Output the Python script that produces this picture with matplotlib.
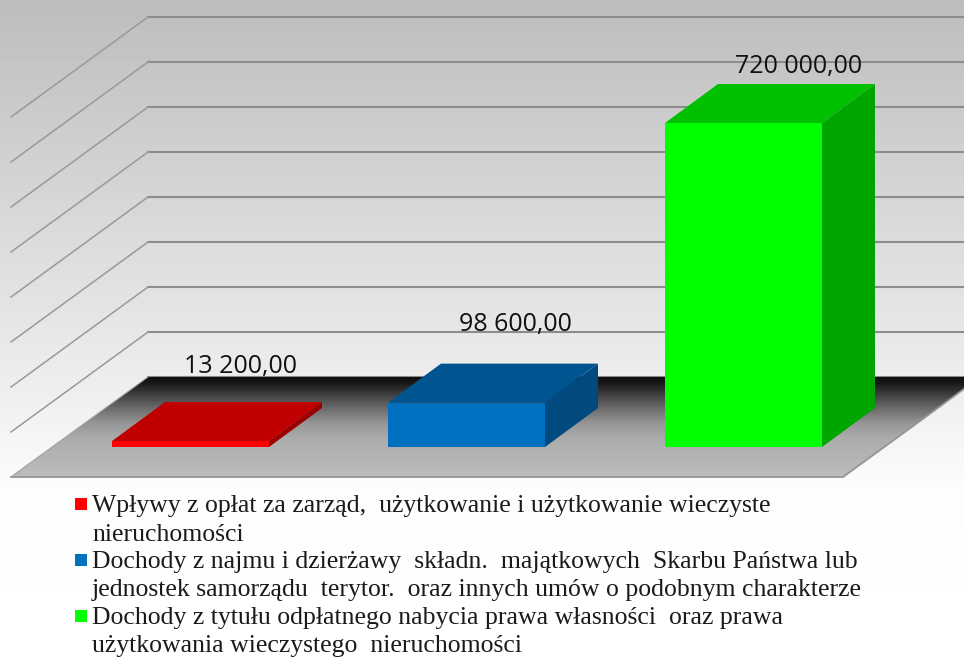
#! /usr/bin/env python
# -*- coding: utf-8 -*-
import numpy as np
import matplotlib
matplotlib.use('Agg')
import matplotlib.pyplot as plt
from matplotlib.patches import Polygon

# data
values = [13200, 98600, 720000]
value_labels = ['13 200,00', '98 600,00', '720 000,00']
front_colors = ['#ff0000', '#0070c0', '#00ff00']
top_colors = ['#c00000', '#00548f', '#00c000']
side_colors = ['#9a0000', '#004a80', '#00a600']
legend_lines = [
    'Wpływy z opłat za zarząd,  użytkowanie i użytkowanie wieczyste',
    'nieruchomości',
    'Dochody z najmu i dzierżawy  składn.  majątkowych  Skarbu Państwa lub',
    'jednostek samorządu  terytor.  oraz innych umów o podobnym charakterze',
    'Dochody z tytułu odpłatnego nabycia prawa własności  oraz prawa',
    'użytkowania wieczystego  nieruchomości',
]
legend_colors = ['#ff0000', None, '#0070c0', None, '#00ff00', None]
grid_values = [0, 100000, 200000, 300000, 400000, 500000, 600000, 700000, 800000]

# layout in pixels of the image
W, H = 964, 657
BASE_Y = 447
PX_PER_UNIT = 324 / 720000
BAR_LEFT = [112, 388, 665]
BAR_W = 157
DX, DY = 53, 39
LABEL_X = [241, 515, 799]
LABEL_Y = [367, 325, 66]
LEGEND_Y = [512, 541, 568, 596, 624, 652]


def to_y(v):
    return BASE_Y - v * PX_PER_UNIT


fig = plt.figure(figsize=(W / 100, H / 100), dpi=100)
ax = fig.add_axes([0, 0, 1, 1])
ax.axis('off')

# wall background, grey at the top fading out to white
rows = np.arange(H)
bg = np.interp(rows, [0, 100, 200, 300, 400, 490, 657],
               [0.74, 0.79, 0.84, 0.89, 0.94, 0.99, 1.0]).reshape(-1, 1)
ax.imshow(bg, extent=[0, W, H, 0], cmap='gray', vmin=0, vmax=1,
          aspect='auto', interpolation='nearest', zorder=0)

# gridlines, back wall and left wall
for gv in grid_values:
    y = 377 - gv * 45 / 100000
    ax.plot([148, W], [y, y], color='#8c8c8c', lw=1.5, zorder=1)
    if gv > 0:
        ax.plot([148, 11], [y, y + 100], color='#999999', lw=1.1, zorder=1)

# floor
floor = Polygon([(148, 377), (W, 377), (W, 389), (843, 477), (11, 477)],
                closed=True, fc='none', ec='none', zorder=2)
ax.add_patch(floor)
floor_rows = np.arange(100)
floor_grad = np.interp(floor_rows, [0, 6, 25, 45, 60, 100],
                       [0.06, 0.10, 0.35, 0.58, 0.67, 0.74]).reshape(-1, 1)
im = ax.imshow(floor_grad, extent=[0, W, 477, 377], cmap='gray', vmin=0, vmax=1,
               aspect='auto', interpolation='nearest', zorder=2)
im.set_clip_path(floor)
ax.plot([11, 843, W], [477, 477, 389], color='#969696', lw=1.3, zorder=2)
ax.plot([11, 148], [477, 377], color='#a0a0a0', lw=0.8, zorder=2)

# bars
for i in range(len(values)):
    x0 = BAR_LEFT[i]
    x1 = x0 + BAR_W
    yt = to_y(values[i])
    ax.add_patch(Polygon([(x0, BASE_Y), (x1, BASE_Y), (x1, yt), (x0, yt)],
                         fc=front_colors[i], ec='none', zorder=3))
    ax.add_patch(Polygon([(x0, yt), (x1, yt), (x1 + DX, yt - DY), (x0 + DX, yt - DY)],
                         fc=top_colors[i], ec='none', zorder=3))
    ax.add_patch(Polygon([(x1, BASE_Y), (x1 + DX, BASE_Y - DY), (x1 + DX, yt - DY), (x1, yt)],
                         fc=side_colors[i], ec='none', zorder=3))
    ax.text(LABEL_X[i], LABEL_Y[i], value_labels[i], ha='center', va='center',
            fontsize=18, family='Open Sans', color='#111111', zorder=5)

# legend
for txt, col, y in zip(legend_lines, legend_colors, LEGEND_Y):
    ax.text(92, y, txt, ha='left', va='baseline', fontsize=18.5,
            family='Liberation Serif', color='#1a1a1a', zorder=5)
    if col is not None:
        ax.add_patch(plt.Rectangle((75, y - 14), 12, 12, fc=col, ec='none', zorder=5))

ax.set_xlim(0, W)
ax.set_ylim(H, 0)

fig.savefig('out.png', dpi=100)
